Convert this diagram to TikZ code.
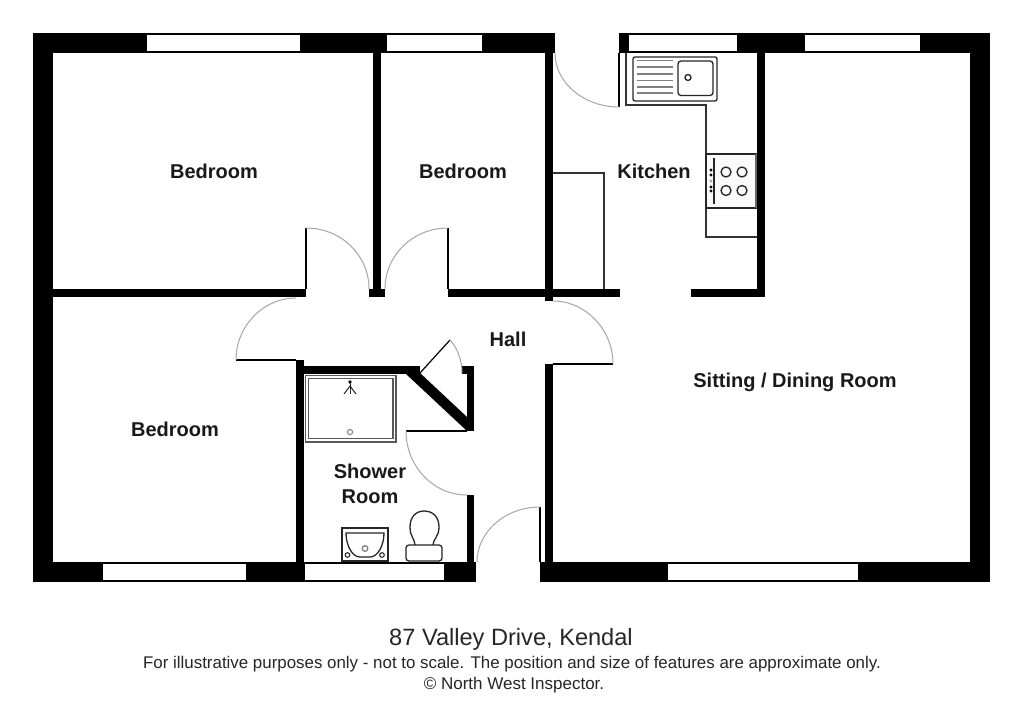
\documentclass[tikz,border=0pt]{standalone}
\usepackage{fontspec}
\setmainfont{Liberation Sans}
\tikzset{
  wall/.style = {fill=black},
  window/.style = {fill=white, draw=black, line width=1.5pt},
  thinline/.style = {draw=black!80, line width=1.2pt},
  doorleaf/.style = {draw=black, line width=1.2pt},
  doorarc/.style = {draw=black!35, line width=1pt},
  fitting/.style = {draw=black!85, line width=1.3pt},
  roomlabel/.style = {font=\fontsize{20}{25}\selectfont\bfseries, text=black!90, align=center, inner sep=0pt},
}
\begin{document}
\begin{tikzpicture}[x=1pt, y=-1pt]
\useasboundingbox (0,0) rectangle (1024,714);
\fill[white] (0,0) rectangle (1024,714);
\fill[wall] (33,33) rectangle (555,53);
\fill[wall] (619,33) rectangle (990,53);
\fill[wall] (33,562) rectangle (476,582);
\fill[wall] (540,562) rectangle (990,582);
\fill[wall] (33,33) rectangle (53,582);
\fill[wall] (970,33) rectangle (990,582);
\fill[wall] (373,53) rectangle (381,297);
\fill[wall] (369,289) rectangle (385,297);
\fill[wall] (53,289) rectangle (306,297);
\fill[wall] (448,289) rectangle (620,297);
\fill[wall] (545,53) rectangle (553,301);
\fill[wall] (757,53) rectangle (765,297);
\fill[wall] (691,289) rectangle (765,297);
\fill[wall] (545,364) rectangle (553,562);
\fill[wall] (296,360) rectangle (304,562);
\fill[wall] (304,366) rectangle (420,374);
\fill[wall] (406,374) -- (420,373) -- (467,417) -- (467,431) -- cycle;
\fill[wall] (467,366) rectangle (474,431);
\fill[wall] (462,366) rectangle (467,374);
\fill[wall] (467,495) rectangle (474,562);
\draw[window] (146,34) rectangle (301,52);
\draw[window] (386,34) rectangle (483,52);
\draw[window] (628,34) rectangle (738,52);
\draw[window] (804,34) rectangle (921,52);
\draw[window] (102,563) rectangle (247,581);
\draw[window] (304,563) rectangle (445,581);
\draw[window] (667,563) rectangle (859,581);
\draw[doorleaf] (619,53) -- (619,107);
\draw[doorarc] (555,53) .. controls (555,83) and (584,107) .. (619,107);
\draw[doorleaf] (306,228) -- (306,289);
\draw[doorarc] (306,228) .. controls (341,228) and (369,255) .. (369,289);
\draw[doorleaf] (448,228) -- (448,289);
\draw[doorarc] (448,228) .. controls (413,228) and (385,255) .. (385,289);
\draw[doorleaf] (236,360) -- (296,360);
\draw[doorarc] (236,360) .. controls (236,326) and (263,298) .. (296,298);
\draw[doorleaf] (553,364) -- (613,364);
\draw[doorarc] (613,364) .. controls (613,330) and (586,301) .. (553,301);
\draw[doorleaf] (420,373) -- (450,340);
\draw[doorarc] (450,340) .. controls (457,347) and (462,360) .. (462,373);
\draw[doorleaf] (406,431) -- (467,431);
\draw[doorarc] (406,431) .. controls (406,466) and (433,495) .. (467,495);
\draw[doorleaf] (540,507) -- (540,562);
\draw[doorarc] (540,507) .. controls (505,507) and (477,532) .. (477,562);
\draw[thinline] (626,53) -- (626,105) -- (706,105) -- (706,237) -- (757,237);
\draw[thinline] (553,173) -- (604,173) -- (604,289);
\draw[fitting, rounded corners=2pt] (633,57) rectangle (717,101);
\draw[fitting, rounded corners=3pt] (678,61) rectangle (713,95.5);
\draw[fitting] (688,77.5) circle[radius=3pt];
\draw[thinline, draw=black!50] (637,60.5) -- (673,60.5);
\draw[thinline, draw=black!50] (637,67) -- (673,67);
\draw[thinline, draw=black!50] (637,74) -- (673,74);
\draw[thinline, draw=black!50] (637,80.5) -- (673,80.5);
\draw[thinline, draw=black!50] (637,87) -- (673,87);
\draw[thinline, draw=black!50] (637,93) -- (673,93);
\draw[fitting, fill=black!2] (706,154) rectangle (756,208);
\draw[draw=black!60, line width=2pt] (756,154) -- (756,208);
\draw[fitting] (714,158) -- (714,204);
\fill[black] (711,170) circle[radius=1.6pt];
\fill[black] (711,175) circle[radius=1.6pt];
\fill[black!35] (711,181) circle[radius=1.6pt];
\fill[black] (711,187) circle[radius=1.6pt];
\fill[black] (711,191) circle[radius=1.6pt];
\draw[fitting] (726,172) circle[radius=5pt];
\draw[fitting] (742,172) circle[radius=5pt];
\draw[fitting] (726,190.5) circle[radius=5pt];
\draw[fitting] (742,190.5) circle[radius=5pt];
\draw[fitting, draw=black!65] (305.5,375.5) rectangle (396,442);
\draw[fitting, draw=black!65] (308.5,378.5) rectangle (393,438.5);
\fill[black] (350,382) circle[radius=1.8pt];
\draw[fitting, line width=1pt] (344,394) -- (350,386) -- (356,394);
\draw[fitting, line width=1pt] (350,382) -- (350,394);
\draw[fitting, draw=black!50, line width=1pt] (350,432) circle[radius=2.6pt];
\draw[fitting] (342,528) rectangle (388,561);
\draw[fitting] (346,533) -- (384,533) .. controls (384,545) and (378,557) .. (370,557) -- (360,557) .. controls (352,557) and (346,545) .. (346,533) -- cycle;
\draw[fitting, draw=black!50] (365,548.5) circle[radius=2.8pt];
\draw[fitting, line width=1.1pt] (347.5,555) circle[radius=2.3pt];
\draw[fitting, line width=1.1pt] (382,555) circle[radius=2.3pt];
\draw[fitting, rounded corners=3pt] (406,545) rectangle (442,561);
\draw[fitting] (415,545) .. controls (415,539) and (410,537) .. (410,527) .. controls (410,517) and (416,511) .. (424,511) .. controls (433,511) and (439,517) .. (439,527) .. controls (439,537) and (433,539) .. (433,545);
\node[roomlabel] (bedroomone) at (214,171) {Bedroom};
\node[roomlabel] (bedroomtwo) at (463,171) {Bedroom};
\node[roomlabel] (bedroomthree) at (175,429) {Bedroom};
\node[roomlabel] (kitchen) at (654,171) {Kitchen};
\node[roomlabel] (hall) at (508,339) {Hall};
\node[roomlabel] (sitting) at (795,382) {Sitting / Dining Room};
\node[roomlabel] (shower) at (370,484) {Shower\\Room};
\node[font=\fontsize{23.6}{28}\selectfont, text=black!85, inner sep=0pt] (address) at (511,639) {87 Valley Drive, Kendal};
\node[font=\fontsize{16.9}{20}\selectfont, text=black!85, inner sep=0pt] (note) at (512,664.5) {For illustrative purposes only - not to scale. The position and size of features are approximate only.};
\node[font=\fontsize{17}{20}\selectfont, text=black!85, inner sep=0pt] (credit) at (514,685) {© North West Inspector.};
\end{tikzpicture}
\end{document}
